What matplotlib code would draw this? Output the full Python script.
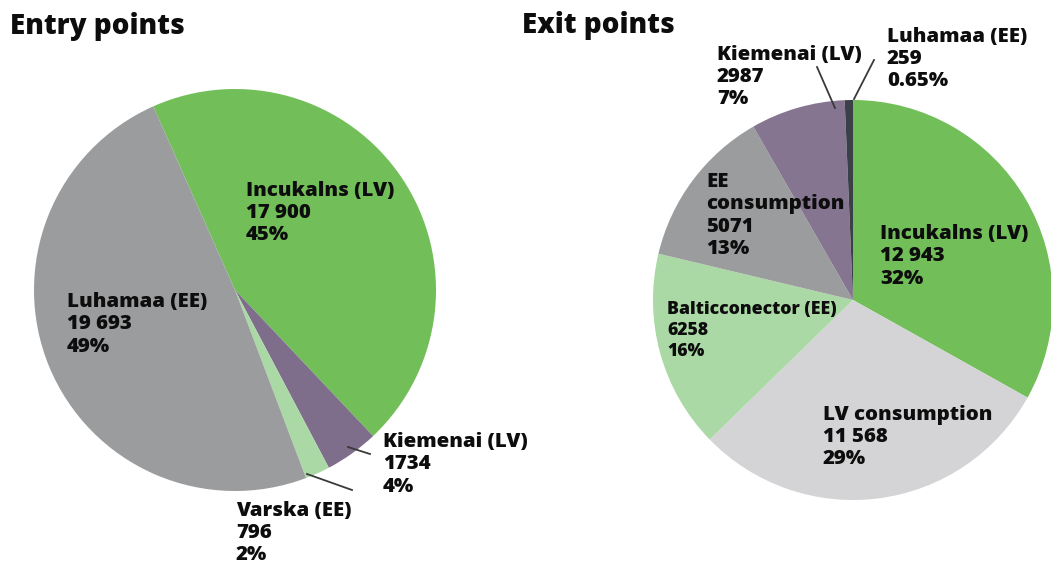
import matplotlib.pyplot as plt

W, H = 1051, 567

# entry points
entry_names = ["Incukalns (LV)", "Kiemenai (LV)", "Varska (EE)", "Luhamaa (EE)"]
entry_values = [17900, 1734, 796, 19693]
entry_shares = ["45%", "4%", "2%", "49%"]
entry_colors = ["#72bf5a", "#7e6d8b", "#abd9a5", "#9b9c9e"]

# exit points
exit_names = ["Incukalns (LV)", "LV consumption", "Balticconector (EE)",
              "EE\nconsumption", "Kiemenai (LV)", "Luhamaa (EE)"]
exit_values = [12943, 11568, 6258, 5071, 2987, 259]
exit_shares = ["32%", "29%", "16%", "13%", "7%", "0.65%"]
exit_colors = ["#72bf5a", "#d4d4d6", "#abd9a5", "#9b9c9e", "#857590", "#3b3f47"]

plt.rcParams['font.family'] = ['Open Sans', 'DejaVu Sans']
WEIGHT = 800


def fmt(v):
    return f"{v:,}".replace(",", " ") if v >= 10000 else str(v)


def px_axes(cx, cy, r):
    # square axes (in pixels) so that a radius-1 pie fills it
    return fig.add_axes([(cx - r) / W, (H - cy - r) / H, 2 * r / W, 2 * r / H])


def label(x, y, text, size=14.7, ls=1.15):
    fig.text(x / W, 1 - y / H, text, fontsize=size, fontweight=WEIGHT,
             ha='left', va='top', linespacing=ls, color='#0d0d0d')


def leader(x0, y0, x1, y1):
    fig.add_artist(plt.Line2D([x0 / W, x1 / W], [1 - y0 / H, 1 - y1 / H],
                              color='#3a3a3a', lw=1.3, transform=fig.transFigure))


fig = plt.figure(figsize=(W / 100, H / 100), dpi=100)

ax1 = px_axes(235, 290, 201)
ax1.pie(entry_values, colors=entry_colors, startangle=114, counterclock=False,
        wedgeprops=dict(linewidth=0))
ax1.set_xlim(-1, 1)
ax1.set_ylim(-1, 1)

ax2 = px_axes(853, 300, 200)
ax2.pie(exit_values, colors=exit_colors, startangle=90, counterclock=False,
        wedgeprops=dict(linewidth=0))
ax2.set_xlim(-1, 1)
ax2.set_ylim(-1, 1)

fig.text(10 / W, 1 - 34 / H, "Entry points", fontsize=20, fontweight=WEIGHT,
         ha='left', va='baseline', color='#0d0d0d')
fig.text(522 / W, 1 - 33 / H, "Exit points", fontsize=20, fontweight=WEIGHT,
         ha='left', va='baseline', color='#0d0d0d')

entry_pos = [(246, 181), (383, 432), (236, 501), (67, 292)]
for name, v, s, (x, y) in zip(entry_names, entry_values, entry_shares, entry_pos):
    label(x, y, f"{name}\n{fmt(v)}\n{s}")

exit_pos = [(880, 224), (823, 405), (667, 301), (706, 172), (717, 45), (887, 27)]
for name, v, s, (x, y) in zip(exit_names, exit_values, exit_shares, exit_pos):
    if name.startswith("Baltic"):
        label(x, y, f"{name}\n{fmt(v)}\n{s}", size=12.7, ls=1.32)
    else:
        label(x, y, f"{name}\n{fmt(v)}\n{s}")

# leader lines for the thin slices
leader(348, 447, 370, 454)
leader(307, 474, 352, 490)
leader(835, 108, 817, 67)
leader(854, 99, 874, 60)

fig.savefig("out.png", dpi=100)
